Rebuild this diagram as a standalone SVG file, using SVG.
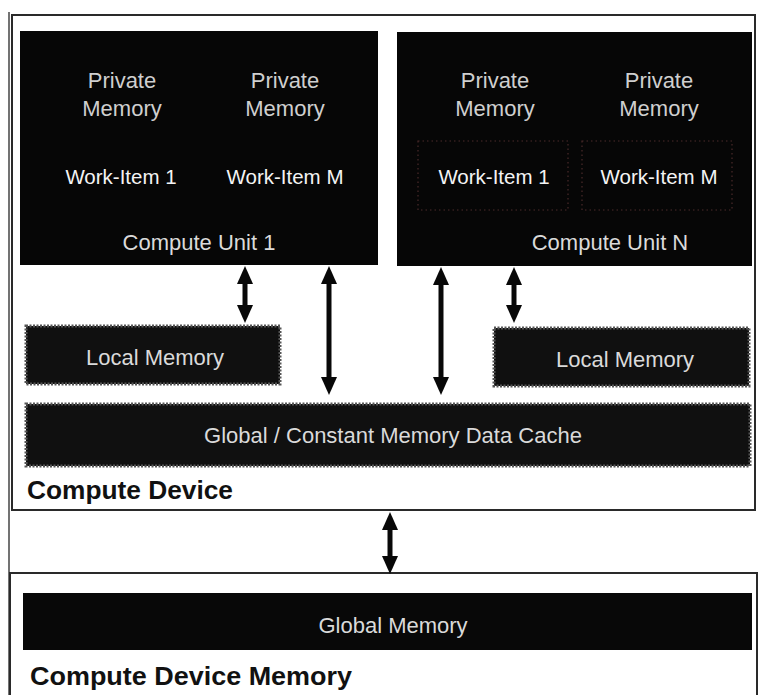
<svg xmlns="http://www.w3.org/2000/svg" width="760" height="695" viewBox="0 0 760 695">
<style>
.frame{fill:#fff;stroke:#2a2a2a;stroke-width:2}
.cu{fill:#060606}
.grain{fill:#101010;stroke:#555;stroke-width:3;stroke-dasharray:2 1.5}
.bar{fill:#080808}
.t{font-family:"Liberation Sans",Arial,sans-serif;text-anchor:middle}
.pm{font-size:22px;fill:#cfcfcf}
.wi{font-size:20.5px;fill:#f4f4f4}
.lbl{font-size:22px;fill:#dadada}
.ttl{font-family:"Liberation Sans",Arial,sans-serif;font-weight:bold;font-size:25px;fill:#111}
.dots{fill:none;stroke:#4a2a2a;stroke-width:1.2;stroke-dasharray:1.5 3}
.conn line{stroke:#080808;stroke-width:5;marker-start:url(#ah);marker-end:url(#ah)}
</style>
<defs>
<marker id="ah" viewBox="0 0 18 16" markerWidth="18" markerHeight="16" refX="9" refY="8" orient="auto-start-reverse" markerUnits="userSpaceOnUse">
<path d="M0,0 L18,8 L0,16 z" fill="#080808"/>
</marker>
</defs>
<rect width="760" height="695" fill="#fff"/>
<line x1="9" y1="12" x2="9" y2="695" stroke="#444" stroke-width="1.5"/>

<g id="compute-device">
<rect class="frame" x="12" y="15" width="743" height="495"/>
<text class="ttl" x="27" y="499" textLength="206" lengthAdjust="spacingAndGlyphs">Compute Device</text>
</g>

<g id="compute-unit-1">
<rect class="cu" x="20" y="31" width="358" height="234"/>
<text class="t pm" x="122" y="88">Private</text>
<text class="t pm" x="122" y="116">Memory</text>
<text class="t pm" x="285" y="88">Private</text>
<text class="t pm" x="285" y="116">Memory</text>
<text class="t wi" x="121" y="184">Work-Item 1</text>
<text class="t wi" x="285" y="184">Work-Item M</text>
<text class="t lbl" x="199" y="250">Compute Unit 1</text>
</g>

<g id="compute-unit-n">
<rect class="cu" x="397" y="32" width="355" height="234"/>
<rect class="dots" x="418" y="141" width="150" height="69"/>
<rect class="dots" x="582" y="141" width="150" height="69"/>
<text class="t pm" x="495" y="88">Private</text>
<text class="t pm" x="495" y="116">Memory</text>
<text class="t pm" x="659" y="88">Private</text>
<text class="t pm" x="659" y="116">Memory</text>
<text class="t wi" x="494" y="184">Work-Item 1</text>
<text class="t wi" x="659" y="184">Work-Item M</text>
<text class="t lbl" x="610" y="250">Compute Unit N</text>
</g>

<g id="local-memory-1">
<rect class="grain" x="26" y="326" width="254" height="58"/>
<text class="t lbl" x="155" y="365">Local Memory</text>
</g>

<g id="local-memory-n">
<rect class="grain" x="494" y="328" width="255" height="58"/>
<text class="t lbl" x="625" y="367">Local Memory</text>
</g>

<g id="data-cache">
<rect class="grain" x="26" y="404" width="724" height="62"/>
<text class="t lbl" x="393" y="443">Global / Constant Memory Data Cache</text>
</g>

<g id="compute-device-memory">
<rect class="frame" x="10" y="573" width="747" height="130"/>
<rect class="bar" x="23" y="593" width="729" height="57"/>
<text class="t lbl" x="393" y="633">Global Memory</text>
<text class="ttl" x="30" y="685" textLength="322" lengthAdjust="spacingAndGlyphs">Compute Device Memory</text>
</g>

<g id="connectors" class="conn">
<line x1="245" y1="275" x2="245" y2="314"/>
<line x1="329" y1="275" x2="329" y2="386"/>
<line x1="441" y1="276" x2="441" y2="386"/>
<line x1="514" y1="276" x2="514" y2="314"/>
<line x1="390" y1="521" x2="390" y2="565"/>
</g>
</svg>
